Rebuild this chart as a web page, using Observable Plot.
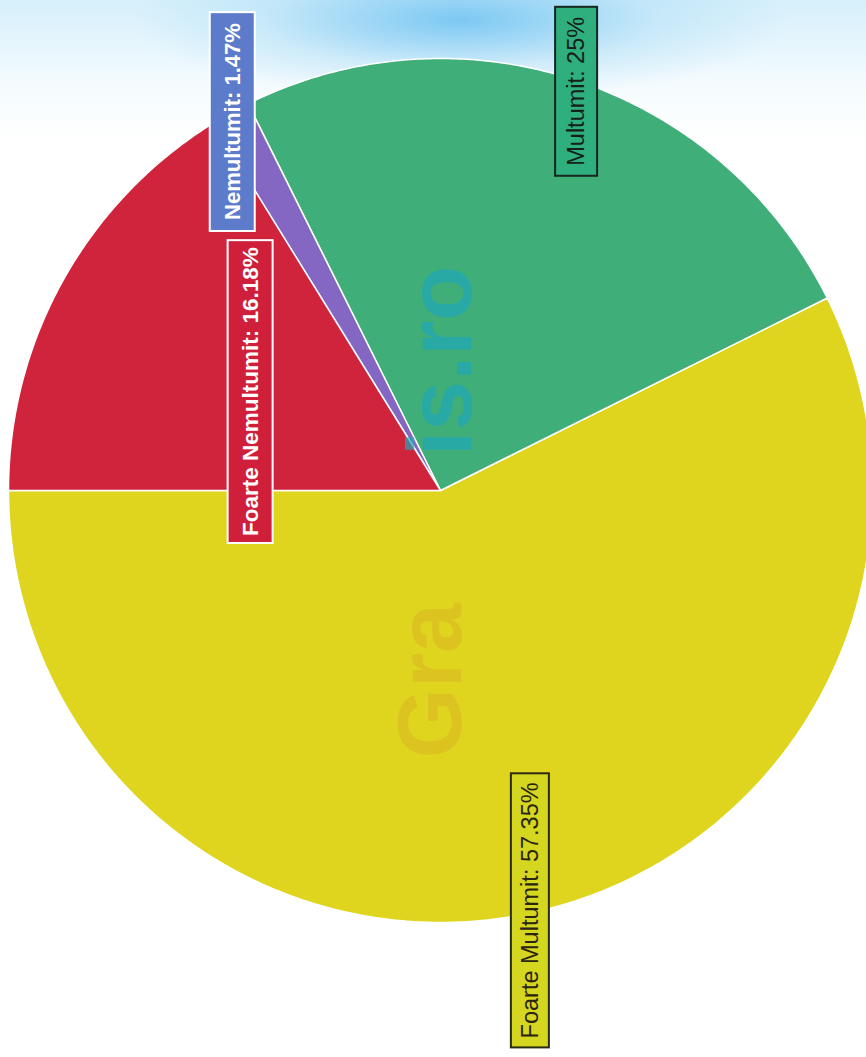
<!DOCTYPE html>
<html><head><meta charset="utf-8">
<script src="https://cdn.jsdelivr.net/npm/d3@7"></script>
<script src="https://cdn.jsdelivr.net/npm/@observablehq/plot@0.6"></script>
<style>
html,body{margin:0;padding:0;background:#fff;}
#chart{position:relative;width:866px;height:1057px;
background:
 radial-gradient(ellipse 330px 80px at 460px 20px, rgba(100,190,240,0.8), rgba(165,218,245,0.4) 60%, rgba(255,255,255,0) 100%),
 linear-gradient(to bottom, rgba(200,234,250,0.75), rgba(225,244,252,0.4) 80px, rgba(255,255,255,0) 140px);}
</style></head><body><div id="chart"></div>
<script>
// ---- data ----
const categories = ["Foarte Multumit", "Multumit", "Nemultumit", "Foarte Nemultumit"];
const values = [57.35, 25, 1.47, 16.18];
const labelTexts = ["Foarte Multumit: 57.35%", "Multumit: 25%", "Nemultumit: 1.47%", "Foarte Nemultumit: 16.18%"];
const watermarkParts = ["Gra", "is.ro"];

// ---- styles / layout ----
const sliceColors = ["#dfd51f", "#3fae78", "#8467c2", "#d0243c"];
const boxFill = ["#d5d61f", "#2faf7d", "#5c7bcb", "#cf1f3b"];
const boxStroke = ["#2b2a14", "#17261e", "#ffffff", "#ffffff"];
const textFill = ["#2a2410", "#14201a", "#ffffff", "#ffffff"];
const textWeight = ["normal", "normal", "bold", "bold"];
const textSize = [23.5, 23.5, 22, 22.5];
const boxPadAlong = [9, 10, 11, 7];
const boxPadAcross = [6, 8, 10, 10];
const labelPos = [[0.208, 0.972], [0.315, -0.924], [-0.481, -0.854], [-0.440, -0.229]];
const watermarkPos = [[-0.02, 0.44], [0.005, -0.30]];
const watermarkFill = ["#d89a25", "#1fa6b8"];
const watermarkOpacity = [0.3, 0.7];
const startAngle = Math.PI;   // slices start pointing left
const direction = -1;         // and run counter-clockwise on screen

// build slice polygons from the values
const total = d3.sum(values);
let cum = 0;
const slicePts = [];
categories.forEach((c, i) => {
  const a0 = startAngle + direction * (cum / total) * 2 * Math.PI;
  cum += values[i];
  const a1 = startAngle + direction * (cum / total) * 2 * Math.PI;
  const n = Math.max(2, Math.ceil(Math.abs(a1 - a0) / (Math.PI / 360)));
  slicePts.push({cat: c, x: 0, y: 0});
  for (let k = 0; k <= n; k++) {
    const a = a0 + (a1 - a0) * k / n;
    slicePts.push({cat: c, x: Math.cos(a), y: Math.sin(a)});
  }
});

const font = "Liberation Sans, Arial, Helvetica, sans-serif";
const labels = labelTexts.map((t, i) => ({text: t, x: labelPos[i][0], y: labelPos[i][1]}));
const wm = watermarkParts.map((t, i) => ({text: t, x: watermarkPos[i][0], y: watermarkPos[i][1]}));

const marks = [
  Plot.line(slicePts, {x: "x", y: "y", z: "cat", fill: "cat", stroke: "white", strokeWidth: 1.5, curve: "linear-closed"}),
  ...wm.map((d, i) => Plot.text([d], {x: "x", y: "y", text: "text", rotate: -90, fontSize: 90, fontWeight: "bold", fontFamily: font,
     fill: watermarkFill[i], fillOpacity: watermarkOpacity[i], textAnchor: "middle", lineAnchor: "middle"})),
  ...labels.map((d, i) => Plot.text([d], {x: "x", y: "y", text: "text", rotate: -90, fontSize: textSize[i], fontWeight: textWeight[i],
     fontFamily: font, fill: textFill[i], textAnchor: "middle", lineAnchor: "middle"}))
];

const chart = Plot.plot({
  width: 866, height: 1057,
  margin: 0,
  x: {domain: [-440 / 432, 426 / 432], range: [0, 866], axis: null},
  y: {domain: [-490 / 432, 567 / 432], range: [0, 1057], axis: null},
  color: {domain: categories, range: sliceColors},
  style: {background: "transparent", fontFamily: font},
  marks
});
document.getElementById("chart").appendChild(chart);

// add boxes behind the labels
const allText = Array.from(chart.querySelectorAll("text"));
labelTexts.forEach((s, i) => {
  const t = allText.find(e => e.textContent === s);
  if (!t) return;
  const b = t.getBBox();
  const padL = boxPadAlong[i], padT = boxPadAcross[i];
  const r = document.createElementNS("http://www.w3.org/2000/svg", "rect");
  r.setAttribute("x", b.x - padL);
  r.setAttribute("y", b.y - padT);
  r.setAttribute("width", b.width + 2 * padL);
  r.setAttribute("height", b.height + 2 * padT);
  r.setAttribute("fill", boxFill[i]);
  r.setAttribute("stroke", boxStroke[i]);
  r.setAttribute("stroke-width", 2);
  const tr = t.getAttribute("transform");
  if (tr) r.setAttribute("transform", tr);
  t.parentNode.insertBefore(r, t);
});
</script></body></html>
